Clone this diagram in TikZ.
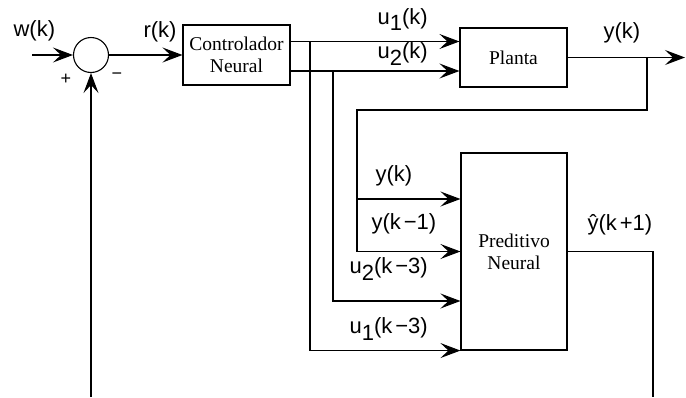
\documentclass[tikz,border=0pt]{standalone}
\usepackage{fontspec}
\setmainfont{Liberation Serif}
\setsansfont{Liberation Sans}
\usetikzlibrary{arrows.meta}
\newcommand{\lo}[1]{\raisebox{-0.3em}{#1}}

\begin{document}
\begin{tikzpicture}[x=1pt, y=-1pt, line width=1.1pt,
	arr/.style = {-{Stealth[length=20pt,width=15pt,inset=8pt]}},
	blk/.style = {draw, align=center, inner sep=0pt, font=\fontsize{19.5}{22}\selectfont},
	sig/.style = {anchor=base west, inner sep=0pt, font=\sffamily\fontsize{22}{24}\selectfont},
	sgn/.style = {inner sep=0pt, font=\sffamily\fontsize{18}{20}\selectfont}]
		\useasboundingbox (0,0) rectangle (686,397);
		\node[draw, circle, minimum size=35pt, inner sep=0pt] (sum) at (91,55) {};
		\node[blk, minimum width=107pt, minimum height=60pt] (ctrl) at (236.5,55) {Controlador\\Neural};
		\node[blk, minimum width=107pt, minimum height=59pt] (planta) at (513.5,57.5) {Planta};
		\node[blk, minimum width=106pt, minimum height=197pt] (pred) at (514,251.5) {Preditivo\\Neural};
		\coordinate (win) at (32,55);
		\coordinate (fb) at (91,397);
		\coordinate (c1) at (290,41.5);
		\coordinate (c2) at (290,71);
		\coordinate (j1) at (310,41.5);
		\coordinate (j2) at (333,71);
		\coordinate (j3) at (647,57.5);
		\coordinate (j4) at (357,110);
		\coordinate (j5) at (357,199);
		\coordinate (yout) at (685,57.5);
		\coordinate (yhat) at (653,397);
		\draw[arr] (win) -- (sum);
		\draw[arr] (fb) -- (sum);
		\draw[arr] (sum) -- (ctrl);
		\draw[arr] (c1) -- (c1 -| planta.west);
		\draw[arr] (c2) -- (c2 -| planta.west);
		\draw[arr] (j1) |- (pred.south west);
		\draw[arr] (j2) |- ([yshift=-49.5pt]pred.west);
		\draw[arr] (planta) -- (yout);
		\draw[arr] (j3) |- (j4) |- (pred.west);
		\draw[arr] (j5) -- (j5 -| pred.west);
		\draw (pred.east) -| (yhat);
		\node[sig] (lw) at (13,36.5) {w(k)};
		\node[sig] (lr) at (143,37.5) {r(k)};
		\node[sig] (lu1) at (377,24) {u\lo{1}(k)};
		\node[sig] (lu2) at (377,58.5) {u\lo{2}(k)};
		\node[sig] (ly) at (603,38.5) {y(k)};
		\node[sig] (lyk) at (375,181.5) {y(k)};
		\node[sig] (lyk1) at (371,229.5) {y(k\hspace{3pt}−1)};
		\node[sig] (lu2k) at (349,273.5) {u\lo{2}(k\hspace{3pt}−3)};
		\node[sig] (lu1k) at (349,333.5) {u\lo{1}(k\hspace{3pt}−3)};
		\node[sig] (lyh) at (587,230.5) {ŷ(k\hspace{3pt}+1)};
		\node[sgn] (plus) at (66,79) {+};
		\node[sgn] (minus) at (117,76) {−};
\end{tikzpicture}
\end{document}
